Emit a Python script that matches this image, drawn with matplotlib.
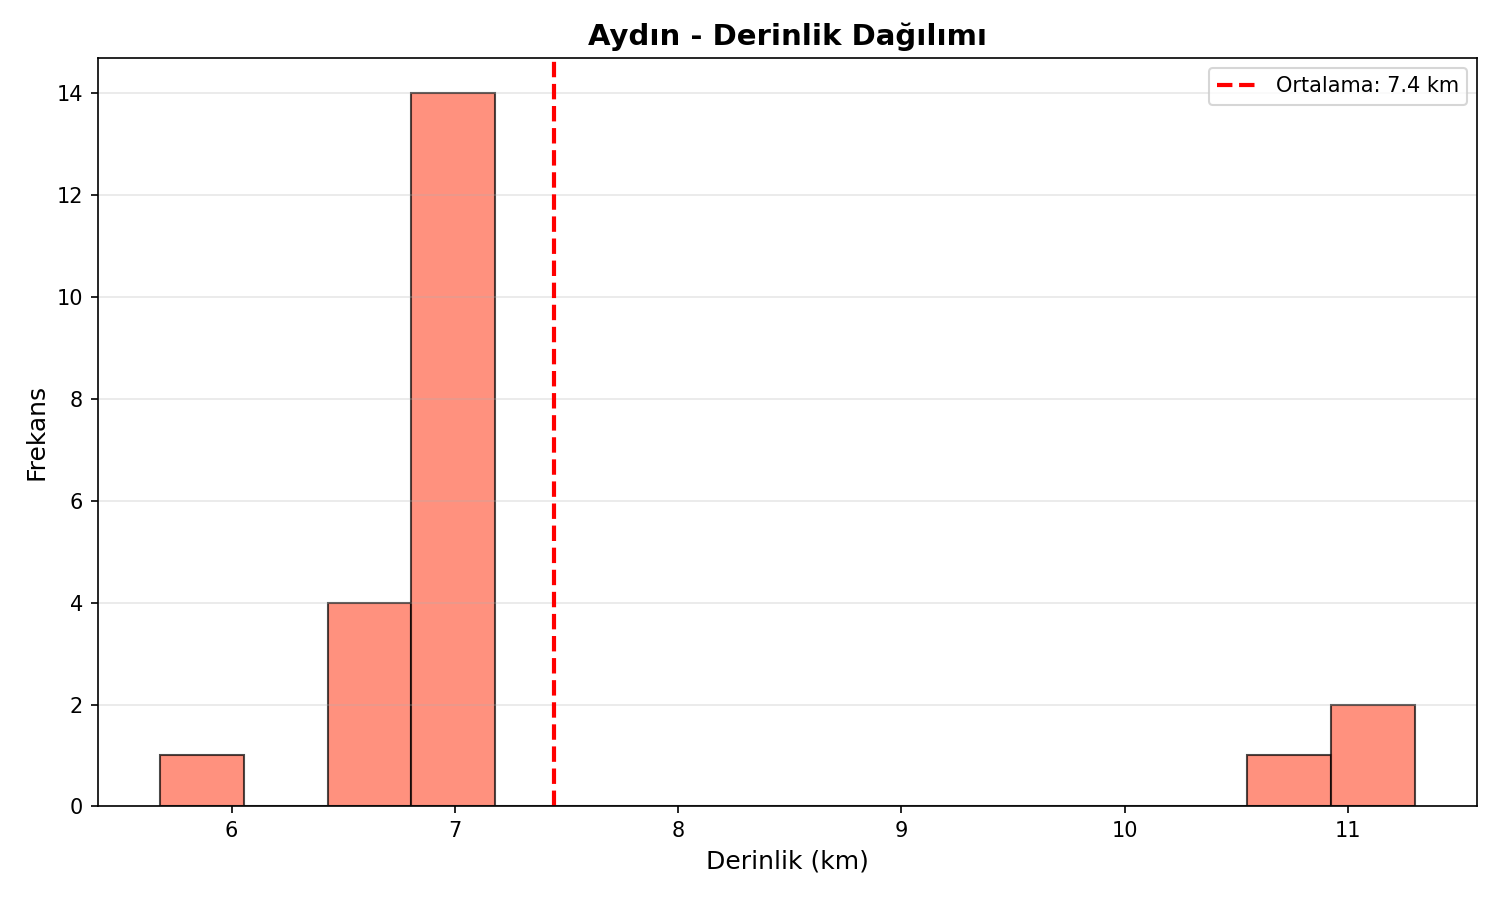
import numpy as np
import matplotlib
matplotlib.use("Agg")
from matplotlib import pyplot as plt

# Aydın deprem derinlikleri (km), grafikten okunan tahmini degerler
depths = [5.68,
          6.5, 6.6, 6.7, 6.8,
          7.0, 7.0, 7.0, 7.0, 7.0, 7.0, 7.0, 7.0, 7.0, 7.0, 7.0, 7.1, 7.1, 7.1,
          10.9,
          11.0, 11.3]
n_bins = 15

depths = np.asarray(depths)
mean_depth = depths.mean()

fig, ax = plt.subplots(figsize=(10, 6), dpi=150)
ax.hist(depths, bins=n_bins, color='tomato', edgecolor='black', alpha=0.7)
ax.axvline(mean_depth, color='red', linestyle='--', linewidth=2,
           label=f'Ortalama: {mean_depth:.1f} km')
ax.set_title('Aydın - Derinlik Dağılımı', fontsize=14, fontweight='bold')
ax.set_xlabel('Derinlik (km)', fontsize=12)
ax.set_ylabel('Frekans', fontsize=12)
ax.legend()
ax.grid(axis='y', alpha=0.3)
fig.subplots_adjust(left=0.065, right=0.985, bottom=0.104, top=0.936)
plt.savefig('out.png')
